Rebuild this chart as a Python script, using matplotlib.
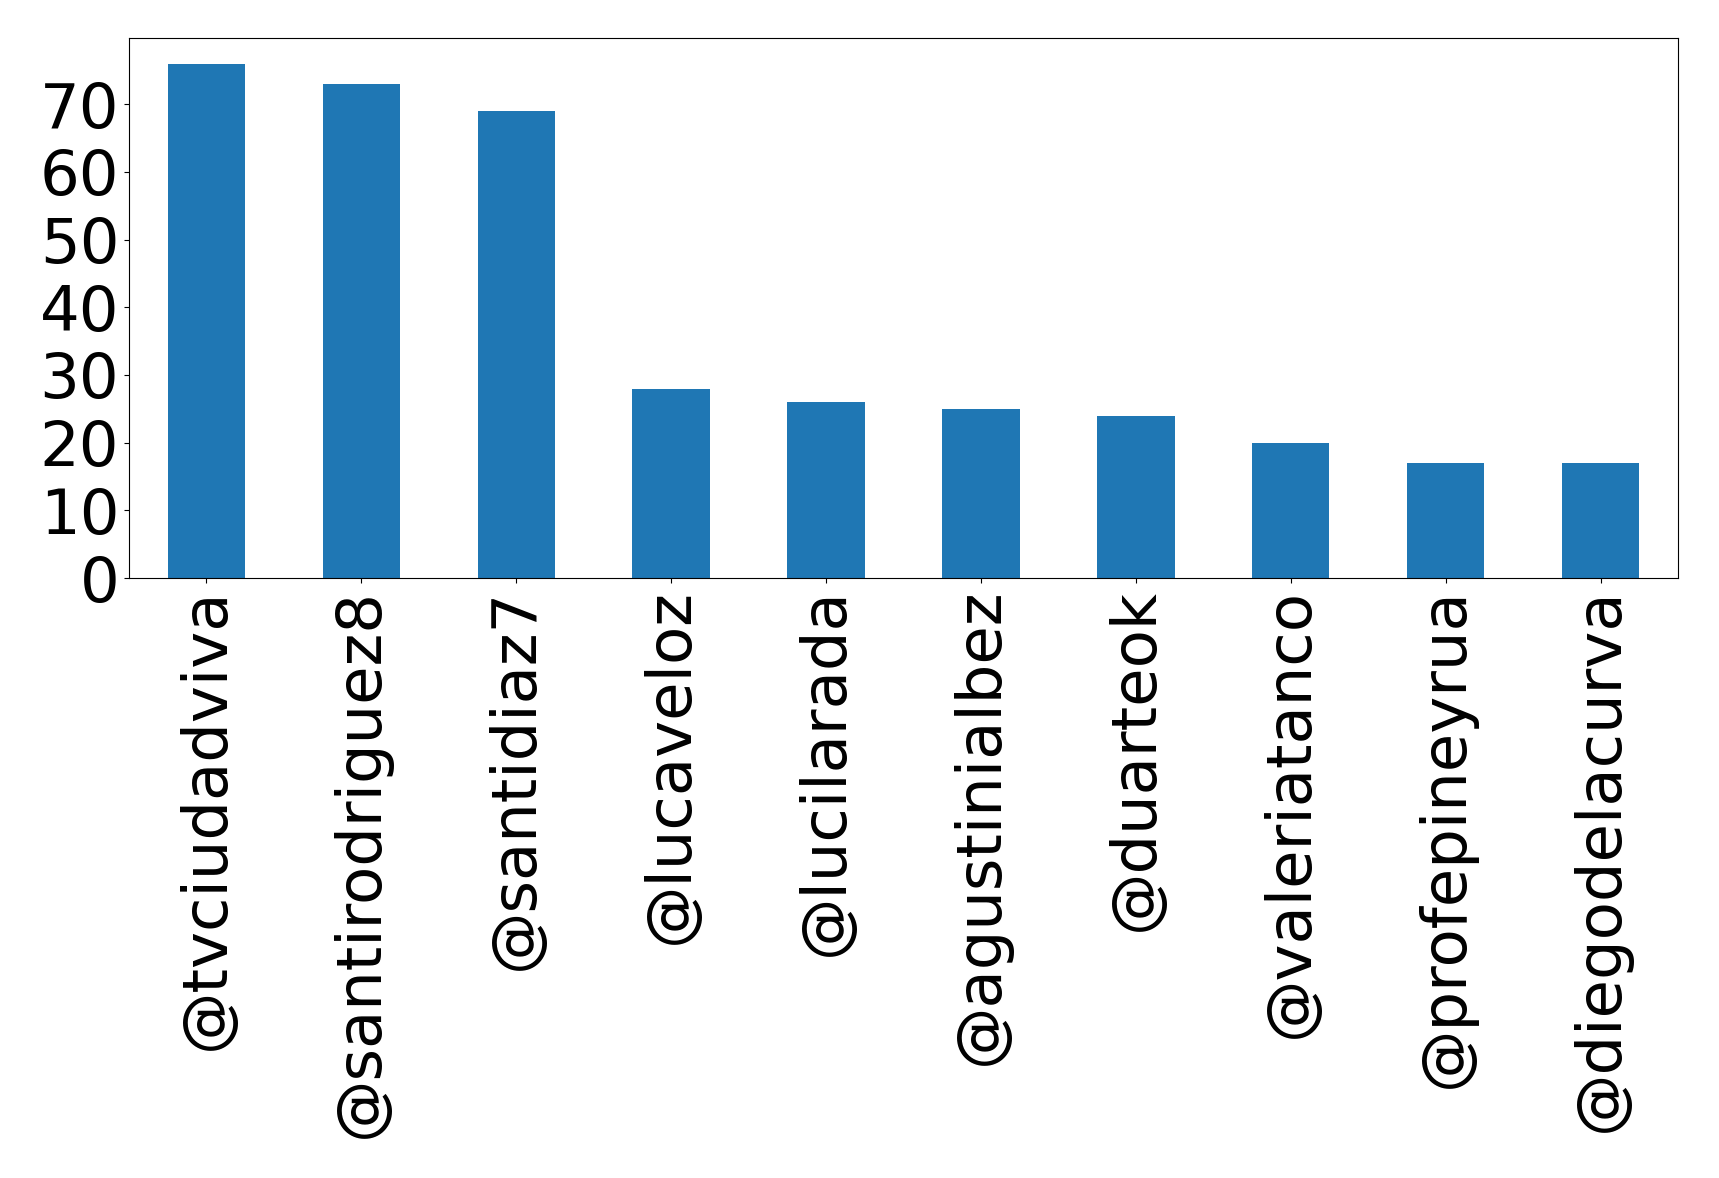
import matplotlib
matplotlib.use("Agg")
import matplotlib.pyplot as plt
from matplotlib.ticker import MultipleLocator
import pandas as pd

users = ["@tvciudadviva", "@santirodriguez8", "@santidiaz7", "@lucaveloz",
         "@lucilarada", "@agustinialbez", "@duarteok", "@valeriatanco",
         "@profepineyrua", "@diegodelacurva"]
counts = [76, 73, 69, 28, 26, 25, 24, 20, 17, 17]

W, H = 1719, 1178
fig = plt.figure(figsize=(W / 100, H / 100), dpi=100)
ax = fig.add_axes([129 / W, 1 - 578 / H, 1549 / W, 540 / H])

s = pd.Series(counts, index=users)
s.plot(kind="bar", ax=ax, color="#1f77b4", width=0.5)
ax.yaxis.set_major_locator(MultipleLocator(10))
ax.tick_params(axis="both", labelsize=45)
ax.set_xlabel("")

fig.savefig("out.png", dpi=100, facecolor="white")
